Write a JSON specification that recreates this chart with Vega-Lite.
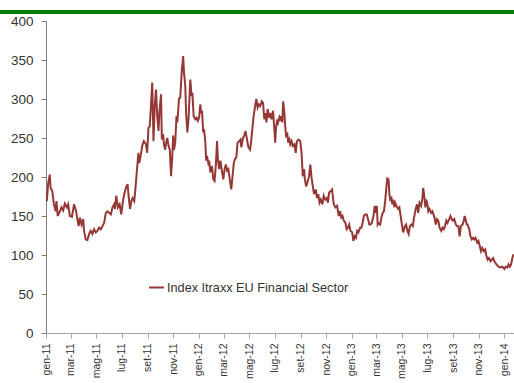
{
  "$schema": "https://vega.github.io/schema/vega-lite/v6.json",
  "width": 468,
  "height": 312,
  "autosize": {"type": "none"},
  "padding": {"left": 46, "top": 21, "right": 0, "bottom": 50},
  "background": "white",
  "config": {
    "view": {"stroke": null},
    "font": "Liberation Sans, Arial, sans-serif"
  },
  "data": {"values": [
    {"d":"2011-01-03","v":169},{"d":"2011-01-06","v":191},{"d":"2011-01-10","v":203},{"d":"2011-01-12","v":186},{"d":"2011-01-16","v":182},{"d":"2011-01-20","v":165},{"d":"2011-01-24","v":156},{"d":"2011-01-26","v":169},{"d":"2011-01-29","v":150},
    {"d":"2011-02-03","v":156},{"d":"2011-02-07","v":161},{"d":"2011-02-11","v":157},{"d":"2011-02-15","v":166},{"d":"2011-02-20","v":161},{"d":"2011-02-23","v":165},{"d":"2011-02-27","v":150},
    {"d":"2011-03-04","v":149},{"d":"2011-03-09","v":165},{"d":"2011-03-14","v":156},{"d":"2011-03-17","v":146},{"d":"2011-03-20","v":137},{"d":"2011-03-23","v":148},{"d":"2011-03-27","v":139},{"d":"2011-03-31","v":146},
    {"d":"2011-04-02","v":131},{"d":"2011-04-06","v":120},{"d":"2011-04-10","v":119},{"d":"2011-04-14","v":127},{"d":"2011-04-18","v":131},{"d":"2011-04-22","v":127},{"d":"2011-04-26","v":133},{"d":"2011-04-30","v":129},
    {"d":"2011-05-04","v":131},{"d":"2011-05-08","v":135},{"d":"2011-05-12","v":133},{"d":"2011-05-16","v":137},{"d":"2011-05-20","v":141},{"d":"2011-05-24","v":154},{"d":"2011-05-28","v":156},
    {"d":"2011-06-01","v":154},{"d":"2011-06-05","v":152},{"d":"2011-06-09","v":161},{"d":"2011-06-13","v":165},{"d":"2011-06-15","v":159},{"d":"2011-06-18","v":176},{"d":"2011-06-22","v":161},{"d":"2011-06-26","v":165},{"d":"2011-06-30","v":152},
    {"d":"2011-07-04","v":169},{"d":"2011-07-07","v":178},{"d":"2011-07-11","v":186},{"d":"2011-07-15","v":191},{"d":"2011-07-18","v":173},{"d":"2011-07-21","v":159},{"d":"2011-07-24","v":169},{"d":"2011-07-27","v":173},{"d":"2011-07-31","v":169},
    {"d":"2011-08-02","v":180},{"d":"2011-08-06","v":206},{"d":"2011-08-10","v":231},{"d":"2011-08-12","v":218},{"d":"2011-08-16","v":229},{"d":"2011-08-19","v":240},{"d":"2011-08-23","v":246},{"d":"2011-08-28","v":242},{"d":"2011-08-31","v":231},
    {"d":"2011-09-03","v":263},{"d":"2011-09-06","v":265},{"d":"2011-09-09","v":291},{"d":"2011-09-12","v":321},{"d":"2011-09-15","v":246},{"d":"2011-09-18","v":291},{"d":"2011-09-21","v":312},{"d":"2011-09-24","v":278},{"d":"2011-09-27","v":259},{"d":"2011-09-29","v":282},
    {"d":"2011-10-03","v":306},{"d":"2011-10-05","v":248},{"d":"2011-10-08","v":255},{"d":"2011-10-10","v":242},{"d":"2011-10-13","v":235},{"d":"2011-10-16","v":246},{"d":"2011-10-18","v":250},{"d":"2011-10-21","v":240},{"d":"2011-10-24","v":235},{"d":"2011-10-27","v":201},{"d":"2011-10-30","v":227},
    {"d":"2011-11-01","v":253},{"d":"2011-11-03","v":235},{"d":"2011-11-06","v":244},{"d":"2011-11-09","v":278},{"d":"2011-11-11","v":270},{"d":"2011-11-15","v":300},{"d":"2011-11-18","v":302},{"d":"2011-11-20","v":321},{"d":"2011-11-22","v":338},{"d":"2011-11-25","v":355},{"d":"2011-11-27","v":334},{"d":"2011-11-30","v":317},
    {"d":"2011-12-02","v":282},{"d":"2011-12-05","v":257},{"d":"2011-12-08","v":276},{"d":"2011-12-10","v":300},{"d":"2011-12-12","v":325},{"d":"2011-12-15","v":304},{"d":"2011-12-17","v":308},{"d":"2011-12-20","v":278},{"d":"2011-12-24","v":274},{"d":"2011-12-27","v":276},{"d":"2011-12-30","v":272},
    {"d":"2012-01-02","v":276},{"d":"2012-01-05","v":293},{"d":"2012-01-07","v":282},{"d":"2012-01-09","v":285},{"d":"2012-01-12","v":257},{"d":"2012-01-14","v":261},{"d":"2012-01-17","v":244},{"d":"2012-01-19","v":221},{"d":"2012-01-21","v":227},{"d":"2012-01-24","v":218},{"d":"2012-01-26","v":221},{"d":"2012-01-29","v":206},
    {"d":"2012-02-02","v":214},{"d":"2012-02-05","v":197},{"d":"2012-02-08","v":195},{"d":"2012-02-11","v":214},{"d":"2012-02-14","v":246},{"d":"2012-02-16","v":223},{"d":"2012-02-19","v":210},{"d":"2012-02-22","v":221},{"d":"2012-02-26","v":206},{"d":"2012-02-29","v":197},
    {"d":"2012-03-03","v":210},{"d":"2012-03-06","v":216},{"d":"2012-03-09","v":208},{"d":"2012-03-12","v":210},{"d":"2012-03-16","v":195},{"d":"2012-03-19","v":184},{"d":"2012-03-22","v":201},{"d":"2012-03-25","v":218},{"d":"2012-03-28","v":223},{"d":"2012-03-31","v":225},
    {"d":"2012-04-03","v":244},{"d":"2012-04-07","v":246},{"d":"2012-04-10","v":248},{"d":"2012-04-12","v":238},{"d":"2012-04-16","v":250},{"d":"2012-04-19","v":253},{"d":"2012-04-22","v":259},{"d":"2012-04-25","v":250},{"d":"2012-04-29","v":238},
    {"d":"2012-05-03","v":235},{"d":"2012-05-06","v":248},{"d":"2012-05-09","v":265},{"d":"2012-05-11","v":276},{"d":"2012-05-15","v":291},{"d":"2012-05-18","v":300},{"d":"2012-05-21","v":289},{"d":"2012-05-24","v":293},{"d":"2012-05-27","v":291},{"d":"2012-05-31","v":297},
    {"d":"2012-06-03","v":295},{"d":"2012-06-06","v":274},{"d":"2012-06-09","v":282},{"d":"2012-06-11","v":270},{"d":"2012-06-14","v":287},{"d":"2012-06-17","v":276},{"d":"2012-06-20","v":282},{"d":"2012-06-23","v":274},{"d":"2012-06-27","v":285},{"d":"2012-06-30","v":261},
    {"d":"2012-07-02","v":244},{"d":"2012-07-04","v":263},{"d":"2012-07-07","v":274},{"d":"2012-07-09","v":270},{"d":"2012-07-12","v":276},{"d":"2012-07-14","v":272},{"d":"2012-07-16","v":278},{"d":"2012-07-19","v":270},{"d":"2012-07-21","v":297},{"d":"2012-07-24","v":282},{"d":"2012-07-26","v":265},{"d":"2012-07-28","v":253},{"d":"2012-07-31","v":255},
    {"d":"2012-08-02","v":244},{"d":"2012-08-05","v":248},{"d":"2012-08-07","v":242},{"d":"2012-08-10","v":246},{"d":"2012-08-13","v":240},{"d":"2012-08-17","v":242},{"d":"2012-08-20","v":231},{"d":"2012-08-23","v":246},{"d":"2012-08-27","v":248},{"d":"2012-08-31","v":246},
    {"d":"2012-09-03","v":231},{"d":"2012-09-06","v":201},{"d":"2012-09-09","v":210},{"d":"2012-09-11","v":197},{"d":"2012-09-14","v":188},{"d":"2012-09-17","v":193},{"d":"2012-09-21","v":201},{"d":"2012-09-24","v":216},{"d":"2012-09-27","v":199},{"d":"2012-09-30","v":188},
    {"d":"2012-10-03","v":178},{"d":"2012-10-07","v":184},{"d":"2012-10-10","v":173},{"d":"2012-10-13","v":178},{"d":"2012-10-16","v":167},{"d":"2012-10-19","v":171},{"d":"2012-10-23","v":165},{"d":"2012-10-26","v":176},{"d":"2012-10-30","v":171},
    {"d":"2012-11-03","v":173},{"d":"2012-11-05","v":167},{"d":"2012-11-08","v":180},{"d":"2012-11-12","v":182},{"d":"2012-11-15","v":184},{"d":"2012-11-19","v":165},{"d":"2012-11-23","v":161},{"d":"2012-11-27","v":163},
    {"d":"2012-12-01","v":150},{"d":"2012-12-04","v":156},{"d":"2012-12-07","v":148},{"d":"2012-12-10","v":150},{"d":"2012-12-13","v":144},{"d":"2012-12-17","v":141},{"d":"2012-12-20","v":133},{"d":"2012-12-23","v":135},{"d":"2012-12-26","v":139},{"d":"2012-12-29","v":131},
    {"d":"2013-01-02","v":129},{"d":"2013-01-05","v":118},{"d":"2013-01-08","v":124},{"d":"2013-01-11","v":122},{"d":"2013-01-14","v":131},{"d":"2013-01-17","v":129},{"d":"2013-01-21","v":135},{"d":"2013-01-24","v":135},{"d":"2013-01-27","v":141},{"d":"2013-01-30","v":150},
    {"d":"2013-02-02","v":152},{"d":"2013-02-06","v":152},{"d":"2013-02-09","v":146},{"d":"2013-02-12","v":139},{"d":"2013-02-15","v":139},{"d":"2013-02-18","v":141},{"d":"2013-02-22","v":150},{"d":"2013-02-25","v":163},{"d":"2013-02-27","v":154},
    {"d":"2013-03-02","v":163},{"d":"2013-03-04","v":139},{"d":"2013-03-06","v":141},{"d":"2013-03-10","v":139},{"d":"2013-03-13","v":148},{"d":"2013-03-16","v":154},{"d":"2013-03-19","v":156},{"d":"2013-03-22","v":169},{"d":"2013-03-25","v":188},{"d":"2013-03-27","v":198},{"d":"2013-03-30","v":197},
    {"d":"2013-04-01","v":178},{"d":"2013-04-03","v":171},{"d":"2013-04-06","v":173},{"d":"2013-04-08","v":165},{"d":"2013-04-10","v":171},{"d":"2013-04-13","v":161},{"d":"2013-04-15","v":167},{"d":"2013-04-18","v":163},{"d":"2013-04-22","v":159},{"d":"2013-04-25","v":161},{"d":"2013-04-28","v":150},
    {"d":"2013-05-01","v":139},{"d":"2013-05-04","v":129},{"d":"2013-05-08","v":137},{"d":"2013-05-11","v":139},{"d":"2013-05-14","v":131},{"d":"2013-05-17","v":127},{"d":"2013-05-20","v":137},{"d":"2013-05-24","v":139},{"d":"2013-05-27","v":137},{"d":"2013-05-30","v":148},
    {"d":"2013-06-03","v":159},{"d":"2013-06-06","v":165},{"d":"2013-06-09","v":154},{"d":"2013-06-12","v":167},{"d":"2013-06-16","v":163},{"d":"2013-06-19","v":173},{"d":"2013-06-21","v":186},{"d":"2013-06-24","v":173},{"d":"2013-06-26","v":161},{"d":"2013-06-28","v":171},
    {"d":"2013-07-01","v":165},{"d":"2013-07-03","v":156},{"d":"2013-07-06","v":159},{"d":"2013-07-10","v":154},{"d":"2013-07-13","v":156},{"d":"2013-07-18","v":148},{"d":"2013-07-21","v":139},{"d":"2013-07-24","v":146},{"d":"2013-07-27","v":144},{"d":"2013-07-30","v":135},
    {"d":"2013-08-03","v":131},{"d":"2013-08-06","v":135},{"d":"2013-08-09","v":133},{"d":"2013-08-12","v":137},{"d":"2013-08-15","v":144},{"d":"2013-08-18","v":141},{"d":"2013-08-22","v":146},{"d":"2013-08-25","v":150},{"d":"2013-08-28","v":146},{"d":"2013-08-31","v":144},
    {"d":"2013-09-03","v":146},{"d":"2013-09-07","v":139},{"d":"2013-09-10","v":137},{"d":"2013-09-13","v":137},{"d":"2013-09-16","v":124},{"d":"2013-09-19","v":137},{"d":"2013-09-23","v":139},{"d":"2013-09-26","v":144},{"d":"2013-09-28","v":150},
    {"d":"2013-10-01","v":144},{"d":"2013-10-03","v":139},{"d":"2013-10-05","v":139},{"d":"2013-10-09","v":133},{"d":"2013-10-12","v":124},{"d":"2013-10-15","v":120},{"d":"2013-10-18","v":122},{"d":"2013-10-21","v":120},{"d":"2013-10-24","v":122},{"d":"2013-10-28","v":116},{"d":"2013-10-31","v":118},
    {"d":"2013-11-03","v":112},{"d":"2013-11-06","v":105},{"d":"2013-11-09","v":109},{"d":"2013-11-13","v":105},{"d":"2013-11-16","v":107},{"d":"2013-11-19","v":99},{"d":"2013-11-22","v":94},{"d":"2013-11-25","v":96},{"d":"2013-11-29","v":92},
    {"d":"2013-12-02","v":94},{"d":"2013-12-05","v":96},{"d":"2013-12-08","v":92},{"d":"2013-12-13","v":88},{"d":"2013-12-18","v":85},{"d":"2013-12-22","v":84},{"d":"2013-12-27","v":85},
    {"d":"2014-01-01","v":82},{"d":"2014-01-04","v":85},{"d":"2014-01-08","v":84},{"d":"2014-01-11","v":88},{"d":"2014-01-14","v":85},{"d":"2014-01-17","v":88},{"d":"2014-01-20","v":96},{"d":"2014-01-23","v":101}
  ]},
  "layer": [
    {
      "mark": {"type": "line", "strokeWidth": 2, "interpolate": "linear"},
      "encoding": {
        "x": {
          "field": "d", "type": "temporal",
          "scale": {"type": "utc", "domain": [{"year": 2011, "month": 1, "date": 1, "utc": true}, {"year": 2014, "month": 1, "date": 24, "utc": true}], "nice": false},
          "axis": {
            "title": null, "grid": false,
            "tickCount": {"interval": "month", "step": 2},
            "labelExpr": "['gen','feb','mar','apr','mag','giu','lug','ago','set','ott','nov','dic'][utcmonth(datum.value)] + '-' + utcFormat(datum.value, '%y')",
            "labelAngle": -90, "labelFontSize": 10.5, "labelColor": "#333333",
            "labelPadding": 5, "tickSize": 5, "tickColor": "#a6a6a6", "domainColor": "#a6a6a6",
            "labelFlush": false, "labelOverlap": false
          }
        },
        "y": {
          "field": "v", "type": "quantitative",
          "scale": {"domain": [0, 400], "nice": false},
          "axis": {
            "title": null, "grid": false, "values": [0, 50, 100, 150, 200, 250, 300, 350, 400], "tickCount": 12,
            "labelOverlap": false,
            "labelFontSize": 13.5, "labelColor": "#333333", "labelPadding": 8,
            "tickSize": 5, "tickColor": "#808080", "domainColor": "#808080"
          }
        },
        "color": {
          "datum": "Index Itraxx EU Financial Sector",
          "scale": {"range": ["#953735"]},
          "legend": {
            "title": null, "orient": "none", "legendX": 102, "legendY": 258,
            "symbolType": "stroke", "symbolSize": 225, "symbolStrokeWidth": 2,
            "labelFontSize": 12.7, "labelLimit": 400, "labelColor": "#333333", "labelOffset": 2, "padding": 0
          }
        }
      }
    },
    {
      "mark": {"type": "rule", "color": "#0a7d0a", "strokeWidth": 3},
      "encoding": {
        "x": {"datum": {"year": 2010, "month": 9, "date": 13, "utc": true}, "type": "temporal",
          "axis": {
            "title": null, "grid": false,
            "tickCount": {"interval": "month", "step": 2},
            "labelExpr": "['gen','feb','mar','apr','mag','giu','lug','ago','set','ott','nov','dic'][utcmonth(datum.value)] + '-' + utcFormat(datum.value, '%y')",
            "labelAngle": -90, "labelFontSize": 10.5, "labelColor": "#333333",
            "labelPadding": 5, "tickSize": 5, "tickColor": "#a6a6a6", "domainColor": "#a6a6a6",
            "labelFlush": false, "labelOverlap": false
          }
        },
        "x2": {"datum": {"year": 2014, "month": 1, "date": 24, "utc": true}},
        "y": {"datum": 412, "type": "quantitative",
          "axis": {
            "title": null, "grid": false, "values": [0, 50, 100, 150, 200, 250, 300, 350, 400], "tickCount": 12,
            "labelOverlap": false,
            "labelFontSize": 13.5, "labelColor": "#333333", "labelPadding": 8,
            "tickSize": 5, "tickColor": "#808080", "domainColor": "#808080"
          }
        }
      }
    }
  ]
}
